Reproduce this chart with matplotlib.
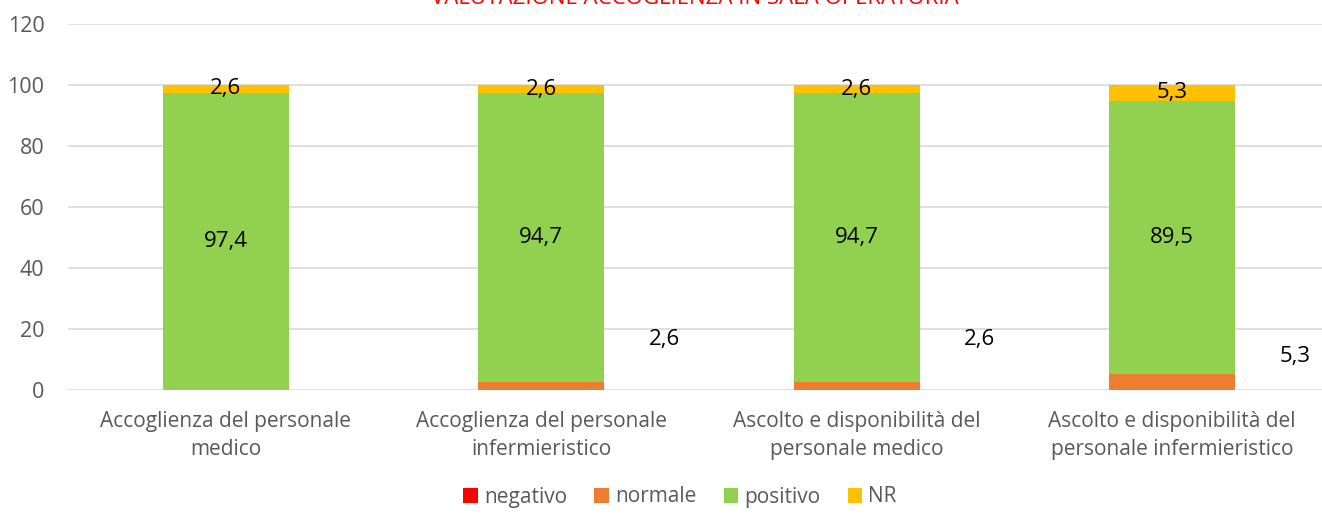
import matplotlib
matplotlib.use("Agg")
import matplotlib.pyplot as plt
import numpy as np

plt.rcParams["font.family"] = ["Open Sans", "DejaVu Sans"]

categorie = [
    "Accoglienza del personale\nmedico",
    "Accoglienza del personale\ninfermieristico",
    "Ascolto e disponibilità del\npersonale medico",
    "Ascolto e disponibilità del\npersonale infermieristico",
]
negativo = [0.0, 0.0, 0.0, 0.0]
normale = [0.0, 2.6, 2.6, 5.3]
positivo = [97.4, 94.7, 94.7, 89.5]
nr = [2.6, 2.6, 2.6, 5.3]

serie = [
    ("negativo", negativo, "#FF0000"),
    ("normale", normale, "#ED7D31"),
    ("positivo", positivo, "#92D050"),
    ("NR", nr, "#FFC000"),
]

fig = plt.figure(figsize=(13.22, 5.14), dpi=100)
ax = fig.add_axes([68 / 1322, 124 / 514, 1262 / 1322, 366 / 514])

x = np.arange(len(categorie))
base = np.zeros(len(categorie))
for nome, valori, colore in serie:
    ax.bar(x, valori, 0.40, bottom=base, color=colore, label=nome, zorder=3)
    base = base + np.array(valori)

# etichette dati
def fmt(v):
    return f"{v:.1f}".replace(".", ",")

for i in x:
    ax.text(i, normale[i] + positivo[i] / 2, fmt(positivo[i]),
            ha="center", va="center", fontsize=16, zorder=4)
    ax.text(i, normale[i] + positivo[i] + nr[i] / 2, fmt(nr[i]),
            ha="center", va="center", fontsize=16, zorder=4)
    if normale[i] > 0:
        ypos = 16.5 if normale[i] < 4 else 11
        ax.text(i + 0.39, ypos, fmt(normale[i]),
                ha="center", va="center", fontsize=16, zorder=4)

ax.set_xlim(-0.5, len(categorie) - 0.5)
ax.set_ylim(0, 120)
ax.set_yticks(range(0, 121, 20))
ax.set_xticks(x)
ax.set_xticklabels(categorie, fontsize=15, color="#595959", linespacing=1.45)
ax.tick_params(axis="y", labelsize=15.5, labelcolor="#595959", length=0, pad=17)
ax.tick_params(axis="x", length=0, pad=15)
ax.grid(axis="y", color="#D9D9D9", linewidth=1.2, zorder=0)
for s in ax.spines.values():
    s.set_visible(False)

fig.text(0.526, 1.003, "VALUTAZIONE ACCOGLIENZA IN SALA OPERATORIA",
         ha="center", va="center", fontsize=16, color="#FF0000")

fig.legend(loc="center", bbox_to_anchor=(680 / 1322, 1 - 497 / 514), ncol=4,
           frameon=False, fontsize=15, labelcolor="#595959", handlelength=0.7,
           handleheight=0.7, handletextpad=0.3, columnspacing=1.3)

fig.savefig("out.png", dpi=100)
